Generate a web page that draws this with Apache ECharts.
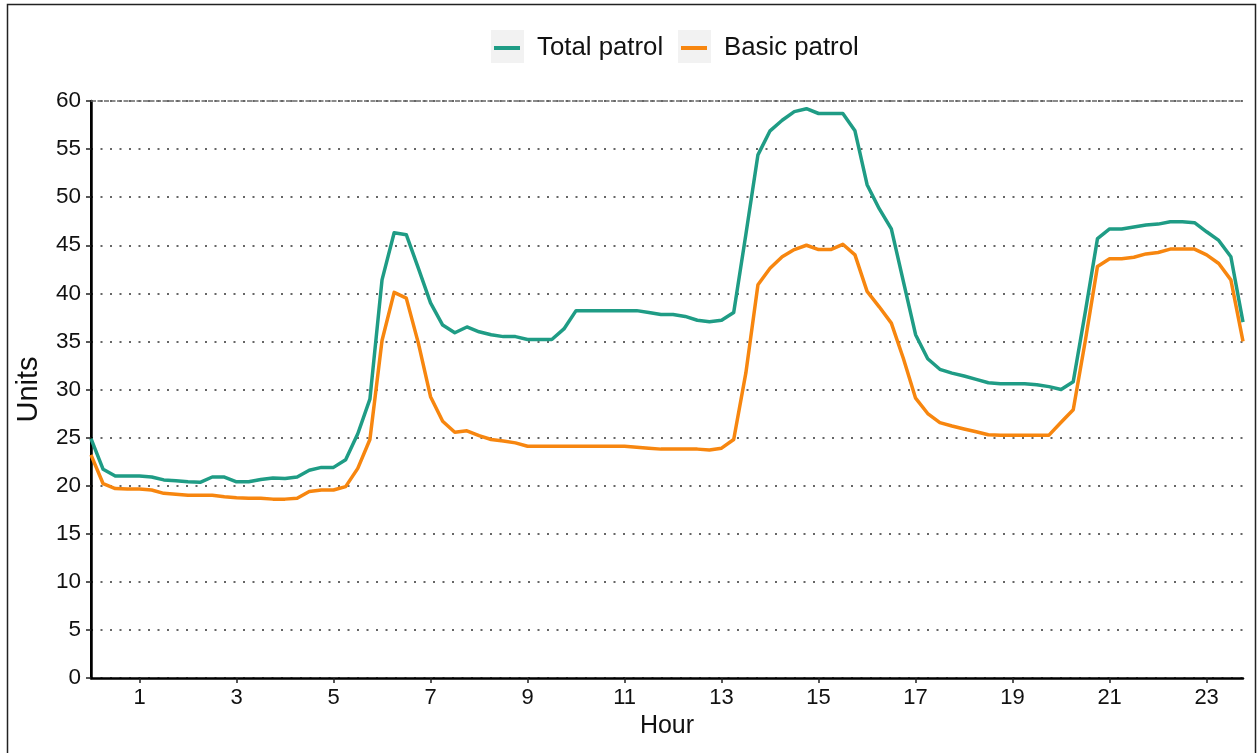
<!DOCTYPE html>
<html>
<head>
<meta charset="utf-8">
<title>Patrol units by hour</title>
<script src="https://cdn.jsdelivr.net/npm/echarts@6/dist/echarts.min.js"></script>
<style>
  html, body { margin: 0; padding: 0; background: #ffffff; }
  #chart { width: 1257px; height: 753px; }
</style>
</head>
<body>
<div id="chart"></div>
<script>
// Quarter-hour time stamps, 00:00 to 23:45
const hours = Array.from({ length: 96 }, (_, i) => i / 4);

// Units on duty at each quarter hour
const totalPatrol = [
  24.9, 21.7, 21.0, 21.0, 21.0, 20.9, 20.6, 20.5,
  20.4, 20.35, 20.9, 20.9, 20.4, 20.4, 20.65, 20.8,
  20.75, 20.9, 21.6, 21.9, 21.9, 22.7, 25.4, 29.0,
  41.4, 46.3, 46.1, 42.6, 39.0, 36.7, 35.9, 36.5,
  36.0, 35.7, 35.5, 35.5, 35.2, 35.2, 35.2, 36.3,
  38.2, 38.2, 38.2, 38.2, 38.2, 38.2, 38.0, 37.8,
  37.8, 37.6, 37.2, 37.05, 37.2, 38.0, 46.1, 54.4,
  56.9, 58.0, 58.9, 59.2, 58.7, 58.7, 58.7, 56.9,
  51.3, 48.8, 46.7, 41.2, 35.7, 33.2, 32.1, 31.7,
  31.4, 31.05, 30.7, 30.6, 30.6, 30.6, 30.5, 30.3,
  30.0, 30.8, 38.1, 45.7, 46.7, 46.7, 46.9, 47.1,
  47.2, 47.45, 47.45, 47.35, 46.4, 45.5, 43.8, 37.0
];

const basicPatrol = [
  23.2, 20.2, 19.7, 19.65, 19.65, 19.55, 19.2, 19.1,
  19.0, 19.0, 19.0, 18.85, 18.75, 18.7, 18.7, 18.6,
  18.6, 18.7, 19.4, 19.55, 19.55, 19.9, 21.8, 24.8,
  35.1, 40.1, 39.5, 34.8, 29.25, 26.7, 25.55, 25.7,
  25.2, 24.8, 24.65, 24.45, 24.1, 24.1, 24.1, 24.1,
  24.1, 24.1, 24.1, 24.1, 24.1, 24.0, 23.9, 23.8,
  23.8, 23.8, 23.8, 23.7, 23.9, 24.8, 31.7, 40.9,
  42.6, 43.8, 44.55, 45.0, 44.55, 44.55, 45.1, 44.0,
  40.2, 38.6, 36.9, 33.2, 29.1, 27.5, 26.55, 26.2,
  25.9, 25.6, 25.3, 25.25, 25.25, 25.25, 25.25, 25.25,
  26.6, 27.9, 35.1, 42.8, 43.6, 43.6, 43.75, 44.1,
  44.25, 44.6, 44.6, 44.6, 44.0, 43.1, 41.4, 35.0
];

// Labelled hours on the x axis
const hourTicks = [1, 3, 5, 7, 9, 11, 13, 15, 17, 19, 21, 23];

const seriesNames = ['Total patrol', 'Basic patrol'];
const seriesColors = ['#1f9c85', '#f7860f'];

const FONT = "'Liberation Sans', Arial, Helvetica, sans-serif";
const INK = '#111111';

const toPairs = (vals) => hours.map((h, i) => [h, vals[i]]);

const chart = echarts.init(document.getElementById('chart'), null, { renderer: 'canvas' });

// one legend block per series, each with its own key swatch
const legendBase = {
  orient: 'horizontal',
  top: 33,
  padding: 0,
  icon: 'rect',
  itemWidth: 26,
  itemHeight: 4,
  selectedMode: false,
  itemStyle: { borderWidth: 0 },
  textStyle: {
    fontFamily: FONT,
    fontSize: 25.8,
    color: INK,
    lineHeight: 30,
    padding: [0, 0, 0, 12]
  }
};

const option = {
  backgroundColor: '#ffffff',
  animation: false,
  color: seriesColors,
  textStyle: { fontFamily: FONT },
  graphic: [
    // outer frame
    {
      type: 'rect', z: 0, silent: true,
      shape: { x: 7.5, y: 4.5, width: 1248, height: 780 },
      style: { fill: null, stroke: '#222222', lineWidth: 1.5 }
    },
    // legend key backgrounds
    {
      type: 'rect', z: 0, silent: true,
      shape: { x: 491, y: 30, width: 33, height: 33 },
      style: { fill: '#f2f2f2' }
    },
    {
      type: 'rect', z: 0, silent: true,
      shape: { x: 678, y: 30, width: 33, height: 33 },
      style: { fill: '#f2f2f2' }
    }
  ],
  legend: [
    Object.assign({}, legendBase, { data: [seriesNames[0]], left: 494 }),
    Object.assign({}, legendBase, { data: [seriesNames[1]], left: 681 })
  ],
  grid: {
    left: 91,
    right: 14,
    top: 101,
    bottom: 75,
    containLabel: false
  },
  xAxis: {
    type: 'value',
    min: 0,
    max: 23.75,
    name: 'Hour',
    nameLocation: 'middle',
    nameGap: 34,
    nameTextStyle: { fontFamily: FONT, fontSize: 25, color: INK },
    axisLine: { show: true, onZero: false, lineStyle: { color: '#000000', width: 2.5 } },
    axisTick: { show: true, length: 5, customValues: hourTicks, lineStyle: { color: '#222222', width: 1.5 } },
    axisLabel: {
      customValues: hourTicks,
      margin: 9,
      fontFamily: FONT,
      fontSize: 22,
      color: INK
    },
    splitLine: { show: false }
  },
  yAxis: [
    {
      type: 'value',
      min: 0,
      max: 60,
      interval: 5,
      name: 'Units',
      nameLocation: 'middle',
      nameRotate: 90,
      nameGap: 48,
      nameTextStyle: { fontFamily: FONT, fontSize: 29, color: INK },
      axisLine: { show: true, onZero: false, lineStyle: { color: '#000000', width: 2.5 } },
      axisTick: { show: true, length: 5, lineStyle: { color: '#222222', width: 1.5 } },
      axisLabel: { margin: 10, fontFamily: FONT, fontSize: 22.5, color: INK },
      splitLine: {
        show: true,
        lineStyle: { color: '#666666', width: 2, type: [2, 7.5] }
      }
    },
    {
      // right-hand frame of the panel
      type: 'value',
      position: 'right',
      min: 0,
      max: 60,
      interval: 5,
      axisLine: { show: true, lineStyle: { color: '#000000', width: 2 } },
      axisTick: { show: false },
      axisLabel: { show: false },
      splitLine: { show: false }
    }
  ],
  series: [
    {
      name: seriesNames[0],
      type: 'line',
      data: toPairs(totalPatrol),
      symbol: 'none',
      smooth: false,
      lineStyle: { width: 3.5, color: seriesColors[0], join: 'round' },
      markLine: {
        silent: true,
        symbol: 'none',
        label: { show: false },
        lineStyle: { color: '#666666', width: 1.5, type: [5, 1.5] },
        data: [{ yAxis: 60 }],
        animation: false
      },
      z: 3
    },
    {
      name: seriesNames[1],
      type: 'line',
      data: toPairs(basicPatrol),
      symbol: 'none',
      smooth: false,
      lineStyle: { width: 3.5, color: seriesColors[1], join: 'round' },
      z: 4
    }
  ]
};

chart.setOption(option);
</script>
</body>
</html>
